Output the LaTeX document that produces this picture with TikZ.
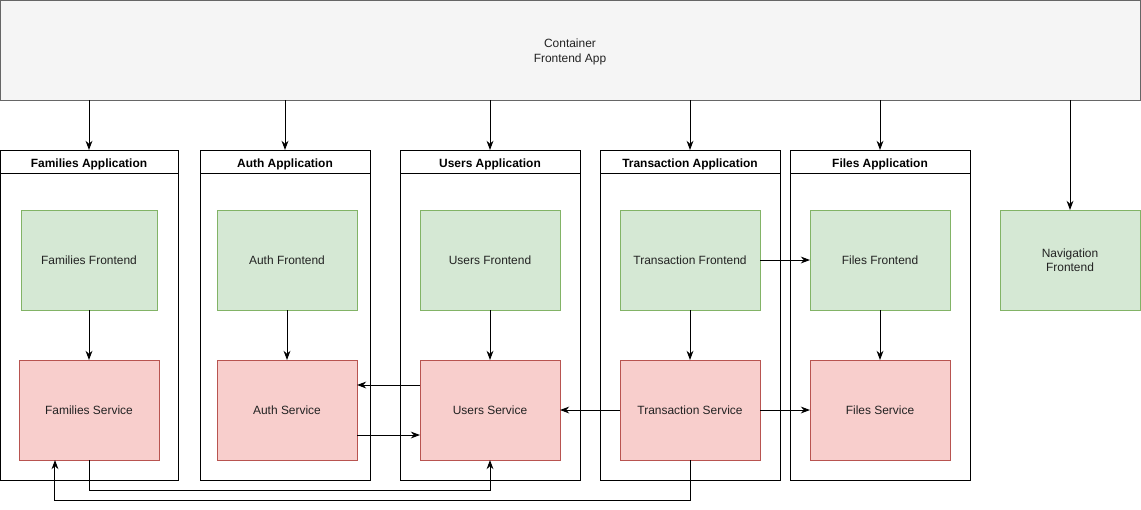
\documentclass[tikz,border=0pt]{standalone}
\usepackage{fontspec}
\setmainfont{Liberation Sans}
\usepackage{tikz}
\usetikzlibrary{positioning, arrows.meta}
\tikzstyle{diagram} = [x = 0.025cm, y = -0.025cm, line width = .7pt]
\definecolor{containerFill}{RGB}{245,245,245}
\definecolor{containerLine}{RGB}{102,102,102}
\definecolor{frontendFill}{RGB}{213,232,212}
\definecolor{frontendLine}{RGB}{130,179,102}
\definecolor{serviceFill}{RGB}{248,206,204}
\definecolor{serviceLine}{RGB}{184,84,80}
\definecolor{labelColor}{RGB}{34,34,34}
\newcommand{\px}{0.025cm}
\tikzstyle{baseText} = [font=\fontsize{8.5pt}{10.2pt}\selectfont, text=labelColor, inner sep=0pt, outer sep=0pt]
\tikzstyle{containerStyle} = [baseText, font=\fontsize{8.5pt}{10.8pt}\selectfont, draw=containerLine, fill=containerFill, align=center, minimum width=1140*\px, minimum height=100*\px, text height=19.8pt]
\tikzstyle{laneHead} = [baseText, draw=black, font=\fontsize{8.5pt}{10.2pt}\selectfont\bfseries, text=black, minimum height=23*\px, text height=8.3pt, text depth=0.4pt]
\tikzstyle{laneBody} = [draw=black, inner sep=0pt, outer sep=0pt, minimum height=307*\px]
\tikzstyle{frontendStyle} = [baseText, draw=frontendLine, fill=frontendFill, align=center, minimum width=140*\px, minimum height=100*\px]
\tikzstyle{serviceStyle} = [baseText, draw=serviceLine, fill=serviceFill, minimum width=140*\px, minimum height=100*\px]
\tikzstyle{flowArrow} = [-{Stealth[length=2.3mm, width=1.7mm]}, black]
\newcommand{\appLane}[4]{
  \node [laneHead, minimum width=#3*\px] (#1Head) at (#2,161.5) {#4};
  \node [laneBody, minimum width=#3*\px, below=0pt of #1Head] (#1Body) {};
}

\begin{document}
\begin{tikzpicture}[diagram]
  \useasboundingbox (0,0) rectangle (1141,509);
  \node [containerStyle] (container) at (570,50) {Container\\Frontend App};

  \appLane{families}{89}{178}{Families Application}
  \appLane{auth}{285}{170}{Auth Application}
  \appLane{users}{490}{180}{Users Application}
  \appLane{transaction}{690}{180}{Transaction Application}
  \appLane{files}{880}{180}{Files Application}

  \node [frontendStyle, minimum width=136*\px] (familiesFrontend) at (89,260) {Families Frontend};
  \node [frontendStyle] (authFrontend) at (287,260) {Auth Frontend};
  \node [frontendStyle] (usersFrontend) at (490,260) {Users Frontend};
  \node [frontendStyle] (transactionFrontend) at (690,260) {Transaction Frontend};
  \node [frontendStyle] (filesFrontend) at (880,260) {Files Frontend};
  \node [frontendStyle] (navigationFrontend) at (1070,260) {Navigation\\Frontend};

  \node [serviceStyle] (familiesService) at (89,410) {Families Service};
  \node [serviceStyle] (authService) at (287,410) {Auth Service};
  \node [serviceStyle] (usersService) at (490,410) {Users Service};
  \node [serviceStyle] (transactionService) at (690,410) {Transaction Service};
  \node [serviceStyle] (filesService) at (880,410) {Files Service};

  % container to the applications
  \foreach \lane in {families, auth, users, transaction, files} {
    \draw [flowArrow] (container.south -| \lane Head.north) -- (\lane Head.north);
  }
  \draw [flowArrow] (container.south -| navigationFrontend.north) -- (navigationFrontend.north);

  % frontend to service
  \foreach \app in {families, auth, users, transaction, files} {
    \draw [flowArrow] (\app Frontend.south -| \app Service.north) -- (\app Service.north);
  }
  \draw [flowArrow] (transactionFrontend.east) -- (filesFrontend.west);

  % service to service
  \draw [flowArrow] ([yshift=0.625cm]usersService.west) -- ([yshift=0.625cm]authService.east);
  \draw [flowArrow] ([yshift=-0.625cm]authService.east) -- ([yshift=-0.625cm]usersService.west);
  \draw [flowArrow] (transactionService.west) -- (usersService.east);
  \draw [flowArrow] (transactionService.east) -- (filesService.west);
  \draw [flowArrow] (familiesService.south) -- ++(0,30) -| (usersService.south);
  \draw [flowArrow] (transactionService.south) -- ++(0,40) -| ([xshift=-0.85cm]familiesService.south);
\end{tikzpicture}
\end{document}
